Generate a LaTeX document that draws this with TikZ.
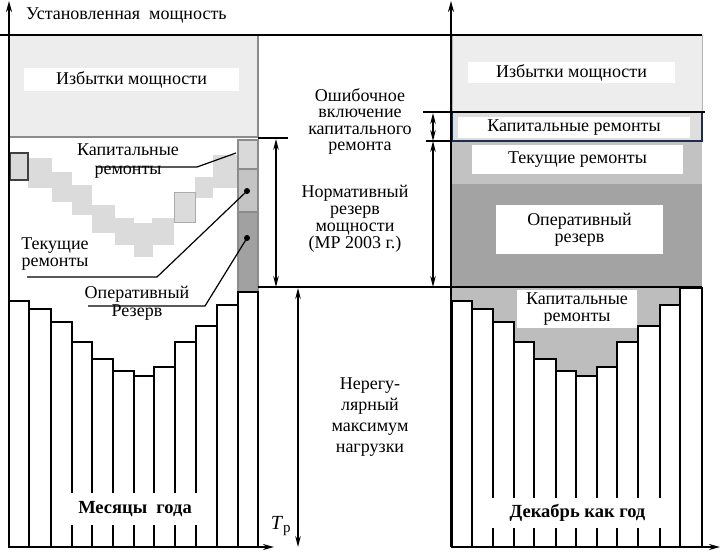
\documentclass[tikz,border=0pt]{standalone}
\usepackage{fontspec}
\setmainfont{Liberation Serif}
\usetikzlibrary{arrows.meta}
\definecolor{cIzb}{gray}{0.93}
\definecolor{cKap}{gray}{0.87}
\definecolor{cTek}{gray}{0.76}
\definecolor{cOper}{gray}{0.64}
\definecolor{cStair}{gray}{0.86}
\definecolor{cColA}{gray}{0.85}
\definecolor{cColB}{gray}{0.77}
\definecolor{cColC}{gray}{0.63}
\definecolor{cBord}{gray}{0.55}
\definecolor{cNavy}{RGB}{30,45,75}
\definecolor{cKapLow}{gray}{0.74}
\begin{document}
\begin{tikzpicture}[x=1pt,y=-1pt,
  txt/.style={font=\fontsize{18}{17}\selectfont, align=center, inner sep=0pt},
  lbl/.style={txt, fill=white},
  boldlbl/.style={font=\fontsize{18.5}{17}\selectfont\bfseries, fill=white, inner sep=0pt},
  bar/.style={draw=black, fill=white, line width=1.8pt},
  thinline/.style={line width=1.4pt},
  axisline/.style={line width=1.8pt, -{Stealth[length=11pt,width=6pt]}},
  dimline/.style={line width=1.3pt, {Stealth[length=11pt,width=5.5pt]}-{Stealth[length=11pt,width=5.5pt]}},
  colblock/.style={draw=cBord, line width=1.5pt},
  stair/.style={fill=cStair},
  dot/.style={circle, fill=black, inner sep=0pt, minimum size=6pt},
  lead/.style={line width=1.2pt}
]
\useasboundingbox (0,0) rectangle (721,552);
\fill[white] (0,0) rectangle (721,552);

% ---------- right panel upper boxes ----------
\draw[fill=cIzb, draw=gray!60] (452,35) rectangle (702,112);
\fill[cTek] (452,141) rectangle (702,184);
\fill[cOper] (452,184) rectangle (702,287);
\draw[fill=cKap, draw=cNavy, line width=1.5pt] (452,112) rectangle (702,141);

% ---------- left panel upper box ----------
\draw[fill=cIzb, draw=cBord, line width=1.5pt] (9,35) rectangle (258,137);

% ---------- staircase (current repairs) ----------
\foreach \xa/\ya/\xb/\yb in {28/158/52/188, 52/172/72/202, 72/185/92/215, 92/205/115/233,
   115/218/134/245, 134/223/153/257, 152/218/174/245, 195/177/213/198, 213/155/237/188}
  \fill[stair] (\xa,\ya) rectangle (\xb,\yb);
\draw[fill=cStair, draw=gray!65, line width=0.8pt] (174,192) rectangle (195,222);
\draw[fill=cColA, draw=gray!50!black, line width=1.8pt] (10,153) rectangle (28,180);

% ---------- right column of left panel ----------
\draw[colblock, fill=cColA] (238,140) rectangle (258,169);
\draw[colblock, fill=cColB] (238,169) rectangle (258,212);
\draw[colblock, fill=cColC] (238,212) rectangle (258,292);

% ---------- right panel lower gray ----------
\fill[cKapLow] (452,287) rectangle (702,547);

% ---------- bars ----------
\foreach \xa/\xb/\t in {9/29/301, 29/51/309, 51/72/322, 72/92/342, 92/113/359, 113/134/371,
   134/154/376, 154/175/367, 175/196/342, 196/217/326, 217/238/305, 238/258/292}
  \draw[bar] (\xa,\t) rectangle (\xb,547);
\foreach \xa/\xb/\t in {452/472/301, 472/493/309, 493/514/322, 514/534/342, 534/556/359, 556/576/371,
   576/597/376, 597/617/367, 617/638/342, 638/660/326, 660/680/305, 680/702/288}
  \draw[bar] (\xa,\t) rectangle (\xb,547);

% ---------- horizontal lines ----------
\draw[thinline] (0,35) -- (702,35);
\draw[thinline] (423,112) -- (705,112);
\draw[thinline] (426,141) -- (452,141);
\draw[thinline] (258,138) -- (288,138);
\draw[thinline] (258,287) -- (702,287);

% ---------- axes ----------
\draw[axisline] (9,547) -- (9,1);
\draw[axisline] (9,547) -- (274,547);
\draw[axisline] (451,547) -- (451,1);
\draw[axisline] (451,547) -- (720,547);

% ---------- dimension arrows ----------
\coordinate (nrTop) at (276,139);
\coordinate (nrBot) at (276,287);
\draw[dimline] (nrTop) -- (nrBot);
\coordinate (okTop) at (433,113);
\coordinate (okMid) at (433,141);
\coordinate (okBot) at (433,287);
\draw[dimline] (okTop) -- (okMid);
\draw[dimline] (okMid) -- (okBot);
\coordinate (tpTop) at (298,288);
\coordinate (tpBot) at (298,547);
\draw[dimline] (tpTop) -- (tpBot);

% ---------- labels in boxes ----------
\node[lbl, minimum width=215, minimum height=23] (izbL) at (131.5,79.5) {Избытки мощности};
\node[lbl, minimum width=207, minimum height=21] (izbR) at (571.5,72.5) {Избытки мощности};
\node[lbl, minimum width=232, minimum height=21] (kapR) at (574,127.5) {Капитальные ремонты};
\node[lbl, minimum width=211, minimum height=29] (tekR) at (577.5,159.5) {Текущие ремонты};
\node[lbl, minimum width=167, minimum height=49] (opR) at (579.5,229.5) {Оперативный\\резерв};
\node[lbl, minimum width=120, minimum height=38] (kapLow) at (577,309) {Капитальные\\ремонты};
\node[boldlbl, minimum width=154, minimum height=32] (months) at (135,509) {Месяцы\ \ года};
\node[boldlbl, minimum width=185, minimum height=30] (dec) at (577.5,513) {Декабрь как год};

% ---------- free texts ----------
\node[txt, anchor=west] (ustan) at (26,15) {Установленная\ \ мощность};
\node[txt, font=\fontsize{18}{16.5}\selectfont] (oshib) at (360,121.5) {Ошибочное\\включение\\капитального\\ремонта};
\node[txt] (norm) at (355,219) {Нормативный\\резерв\\мощности\\(МР 2003 г.)};
\node[txt, font=\fontsize{18}{21}\selectfont] (nereg) at (370,417) {Нерегу-\\лярный\\максимум\\нагрузки};
\node[txt] (tp) at (281,526) {\textit{\fontsize{20}{20}\selectfont T}\textsubscript{\fontsize{15}{15}\selectfont р}};

% ---------- left annotations ----------
\node[txt, font=\fontsize{18}{18.5}\selectfont] (kapL) at (128,161) {Капитальные\\ремонты};
\node[txt, font=\fontsize{18}{17.5}\selectfont] (tekL) at (55,254) {Текущие\\ремонты};
\node[txt, font=\fontsize{18}{18}\selectfont] (opL) at (137,303) {Оперативный\\Резерв};

\node[dot] (dTek) at (247,191) {};
\node[dot] (dOp) at (247,238) {};
\coordinate (kapEnd) at (236,153);

\coordinate (kapA) at (97,167);
\coordinate (kapB) at (197,167);
\draw[lead] (kapA) -- (kapB) -- (kapEnd);
\coordinate (tekA) at (27,277);
\coordinate (tekB) at (157,277);
\draw[lead] (tekA) -- (tekB) -- (dTek.center);
\coordinate (opA) at (88,306);
\coordinate (opB) at (205,306);
\draw[lead] (opA) -- (opB) -- (dOp.center);
\end{tikzpicture}
\end{document}
